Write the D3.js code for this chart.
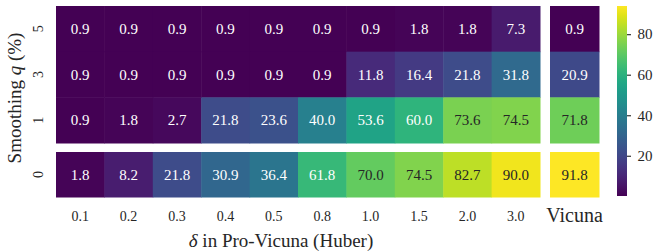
<!DOCTYPE html>
<html><head><meta charset="utf-8">
<script src="https://cdn.jsdelivr.net/npm/d3@7"></script>
<style>body{margin:0;background:#fff;} svg{display:block;}</style>
</head><body><svg id="c" width="655" height="252" font-family="Liberation Serif"></svg>
<script>
const deltas = ["0.1","0.2","0.3","0.4","0.5","0.8","1.0","1.5","2.0","3.0"];
const qTop = ["5","3","1"];
const qBottom = ["0"];
const row5 = [0.9,0.9,0.9,0.9,0.9,0.9,0.9,1.8,1.8,7.3];
const row3 = [0.9,0.9,0.9,0.9,0.9,0.9,11.8,16.4,21.8,31.8];
const row1 = [0.9,1.8,2.7,21.8,23.6,40.0,53.6,60.0,73.6,74.5];
const row0 = [1.8,8.2,21.8,30.9,36.4,61.8,70.0,74.5,82.7,90.0];
const vicuna = [0.9,20.9,71.8,91.8];
const vicunaLabel = "Vicuna";
const cbTicks = [20,40,60,80];

const rows = {"5":row5,"3":row3,"1":row1,"0":row0};
const vic = {"5":vicuna[0],"3":vicuna[1],"1":vicuna[2],"0":vicuna[3]};

const FONT = "Liberation Serif";
const svg = d3.select("#c");
const allVals = [...row5,...row3,...row1,...row0,...vicuna];
const color = d3.scaleSequential(d3.interpolateViridis).domain([d3.min(allVals), d3.max(allVals)]);

const x = d3.scaleBand().domain(deltas).range([56,540]);
const xv = d3.scaleBand().domain([vicunaLabel]).range([550,599]);
const yTop = d3.scaleBand().domain(qTop).range([6,143]);
const yBot = d3.scaleBand().domain(qBottom).range([152,197]);
const yOf = q => qTop.includes(q) ? yTop : yBot;

function textColor(c){
  const rgb = d3.rgb(c);
  const f = v => { v/=255; return v<=0.03928? v/12.92 : Math.pow((v+0.055)/1.055,2.4); };
  const l = 0.2126*f(rgb.r)+0.7152*f(rgb.g)+0.0722*f(rgb.b);
  return l > 0.408 ? "#262626" : "#ffffff";
}

const cells = [];
[...qTop,...qBottom].forEach(q=>{
  deltas.forEach((d,i)=>cells.push({q, xs:x, key:d, v:rows[q][i]}));
  cells.push({q, xs:xv, key:vicunaLabel, v:vic[q]});
});

const g = svg.append("g");
g.selectAll("rect.cell").data(cells).join("rect")
  .attr("x",d=>d.xs(d.key)).attr("y",d=>yOf(d.q)(d.q))
  .attr("width",d=>d.xs.bandwidth()+0.5).attr("height",d=>yOf(d.q).bandwidth()+0.5)
  .attr("fill",d=>color(d.v));
g.selectAll("text.val").data(cells).join("text")
  .attr("x",d=>d.xs(d.key)+d.xs.bandwidth()/2)
  .attr("y",d=>yOf(d.q)(d.q)+yOf(d.q).bandwidth()/2)
  .attr("dy","0.35em").attr("text-anchor","middle")
  .attr("font-family",FONT).attr("font-size",15)
  .attr("fill",d=>textColor(color(d.v)))
  .text(d=>d.v.toFixed(1));

// x tick labels
svg.append("g").selectAll("text").data(deltas).join("text")
  .attr("x",d=>x(d)+x.bandwidth()/2).attr("y",216).attr("dy","0.35em")
  .attr("text-anchor","middle").attr("font-family",FONT).attr("font-size",14).attr("fill","#262626").text(d=>d);
svg.append("text").attr("x",xv(vicunaLabel)+xv.bandwidth()/2).attr("y",222)
  .attr("text-anchor","middle").attr("font-family",FONT).attr("font-size",20).attr("fill","#262626").text(vicunaLabel);

// y tick labels (rotated)
svg.append("g").selectAll("text").data([...qTop,...qBottom]).join("text")
  .attr("transform",d=>`translate(43,${yOf(d)(d)+yOf(d).bandwidth()/2}) rotate(-90)`)
  .attr("text-anchor","middle").attr("font-family",FONT).attr("font-size",14).attr("fill","#262626").text(d=>d);

// axis titles
const xt = svg.append("text").attr("x",281).attr("y",247).attr("text-anchor","middle")
  .attr("font-family",FONT).attr("font-size",19).attr("fill","#262626");
xt.append("tspan").attr("font-style","italic").text("δ");
xt.append("tspan").text(" in Pro-Vicuna (Huber)");
const yt = svg.append("text").attr("transform","translate(21,98) rotate(-90)").attr("text-anchor","middle")
  .attr("font-family",FONT).attr("font-size",19).attr("fill","#262626");
yt.append("tspan").text("Smoothing ");
yt.append("tspan").attr("font-style","italic").text("q");
yt.append("tspan").text(" (%)");

// colorbar
const defs = svg.append("defs");
const grad = defs.append("linearGradient").attr("id","vg").attr("x1","0").attr("y1","1").attr("x2","0").attr("y2","0");
d3.range(0,1.0001,0.05).forEach(t=>grad.append("stop").attr("offset",t).attr("stop-color",d3.interpolateViridis(t)));
const cbScale = d3.scaleLinear().domain([0.15,93.9]).range([196,6]);
svg.append("rect").attr("x",617).attr("y",6).attr("width",10).attr("height",190).attr("fill","url(#vg)");
const cbAxis = d3.axisRight(cbScale).tickValues(cbTicks).tickSize(4).tickPadding(6.5);
const ca = svg.append("g").attr("transform","translate(627,0)").call(cbAxis)
  .attr("font-family",FONT);
ca.select(".domain").remove();
ca.selectAll("line").attr("stroke","#333").attr("stroke-width",1.2);
ca.selectAll("text").attr("font-size",15).attr("fill","#262626").attr("font-family",FONT);
</script></body></html>
